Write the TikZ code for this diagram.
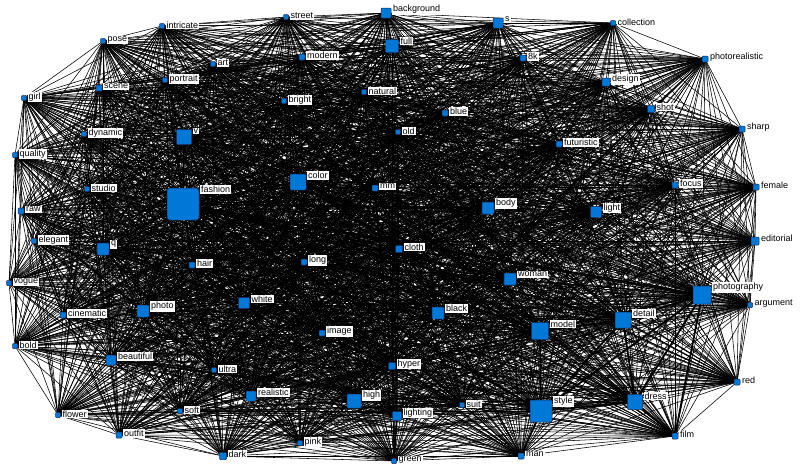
\documentclass[tikz,border=0pt]{standalone}
\usepackage{fontspec}
\setmainfont{Liberation Sans}
\usetikzlibrary{backgrounds}
\definecolor{nodeblue}{RGB}{0,120,215}
\definecolor{nodeedge}{RGB}{25,45,95}
\tikzset{
  nd/.style={draw=nodeedge, line width=0.5pt, fill=nodeblue, minimum size=#1, inner sep=0pt, outer sep=0pt, rounded corners=0.8pt},
  lab/.style={anchor=west, fill=white, inner sep=1pt, font=\fontsize{9}{10}\selectfont, xshift=1pt, yshift=-1.5pt},
  edge/.style={draw=black, line width=0.55pt},
  heavy/.style={draw=black, line width=1.8pt}
}
\newcommand\gnode[5]{\node[nd=#4, label={[lab]north east:#5}] (#1) at (#2,#3) {};}
\begin{document}
\begin{tikzpicture}[x=1pt, y=-1pt]
\useasboundingbox (0,0) rectangle (800,467);
\gnode{intricate}{162}{26}{5pt}{intricate}
\gnode{pose}{103}{41}{5pt}{pose}
\gnode{street}{286}{17}{5pt}{street}
\gnode{background}{386}{13}{10pt}{background}
\gnode{full}{392}{46}{13pt}{full}
\gnode{s}{498}{23}{10pt}{s}
\gnode{n8k}{523}{58}{6pt}{8k}
\gnode{collection}{613}{23}{5pt}{collection}
\gnode{photorealistic}{705}{59}{6pt}{photorealistic}
\gnode{design}{606}{82}{8pt}{design}
\gnode{shot}{651}{109}{7pt}{shot}
\gnode{sharp}{742}{129}{6pt}{sharp}
\gnode{futuristic}{559}{144}{6pt}{futuristic}
\gnode{modern}{302}{57}{6pt}{modern}
\gnode{art}{213}{64}{5pt}{art}
\gnode{portrait}{165}{80}{5pt}{portrait}
\gnode{scene}{99}{88}{6pt}{scene}
\gnode{girl}{24}{98}{5pt}{girl}
\gnode{dynamic}{84}{134}{5pt}{dynamic}
\gnode{v}{184}{137}{15pt}{v}
\gnode{quality}{15}{155}{5pt}{quality}
\gnode{bright}{284}{101}{5pt}{bright}
\gnode{natural}{364}{92}{5pt}{natural}
\gnode{blue}{445}{113}{6pt}{blue}
\gnode{old}{398}{132}{5pt}{old}
\gnode{studio}{87}{189}{5pt}{studio}
\node[nd=32pt, rounded corners=3pt, label={[lab]north east:fashion}] (fashion) at (183,204) {};
\gnode{raw}{21}{211}{6pt}{raw}
\gnode{elegant}{34}{241}{5pt}{elegant}
\gnode{q}{103}{249}{12pt}{q}
\gnode{hair}{192}{265}{6pt}{hair}
\gnode{vogue}{9}{283}{5pt}{vogue}
\gnode{photo}{143}{311}{12pt}{photo}
\gnode{white}{244}{303}{11pt}{white}
\gnode{color}{298}{182}{16pt}{color}
\gnode{mm}{375}{188}{6pt}{mm}
\gnode{body}{488}{208}{12pt}{body}
\gnode{cloth}{399}{249}{7pt}{cloth}
\gnode{long}{304}{262}{6pt}{long}
\gnode{woman}{510}{279}{12pt}{woman}
\gnode{black}{438}{313}{12pt}{black}
\gnode{focus}{675}{185}{6pt}{focus}
\gnode{female}{756}{187}{6pt}{female}
\gnode{light}{596}{212}{11pt}{light}
\gnode{editorial}{755}{241}{8pt}{editorial}
\gnode{photography}{702}{295}{18pt}{photography}
\gnode{argument}{750}{305}{5pt}{argument}
\gnode{cinematic}{63}{315}{6pt}{cinematic}
\gnode{bold}{15}{346}{5pt}{bold}
\gnode{beautiful}{111}{360}{10pt}{beautiful}
\gnode{ultra}{214}{370}{5pt}{ultra}
\gnode{realistic}{251}{396}{10pt}{realistic}
\gnode{soft}{180}{411}{5pt}{soft}
\gnode{flower}{58}{415}{5pt}{flower}
\gnode{outfit}{119}{435}{6pt}{outfit}
\gnode{dark}{223}{456}{7pt}{dark}
\gnode{image}{322}{333}{6pt}{image}
\gnode{hyper}{392}{366}{7pt}{hyper}
\gnode{high}{354}{401}{14pt}{high}
\gnode{lighting}{397}{416}{9pt}{lighting}
\gnode{suit}{462}{405}{5pt}{suit}
\gnode{pink}{300}{443}{5pt}{pink}
\gnode{green}{394}{461}{5pt}{green}
\gnode{man}{521}{456}{6pt}{man}
\gnode{model}{540}{331}{17pt}{model}
\gnode{detail}{623}{320}{16pt}{detail}
\gnode{style}{541}{411}{22pt}{style}
\gnode{dress}{635}{402}{15pt}{dress}
\gnode{red}{737}{382}{6pt}{red}
\gnode{film}{675}{436}{6pt}{film}
\def\allnodes{intricate,pose,street,background,full,s,n8k,collection,photorealistic,design,shot,sharp,futuristic,modern,art,portrait,scene,girl,dynamic,v,quality,bright,natural,blue,old,studio,fashion,raw,elegant,q,hair,vogue,photo,white,color,mm,body,cloth,long,woman,black,focus,female,light,editorial,photography,argument,cinematic,bold,beautiful,ultra,realistic,soft,flower,outfit,dark,image,hyper,high,lighting,suit,pink,green,man,model,detail,style,dress,red,film}
\begin{scope}[on background layer]
\fill[white] (0,0) rectangle (800,467);
\foreach \a [count=\i] in \allnodes {
  \foreach \b [count=\j] in \allnodes {
    \ifnum\j>\i \draw[edge] (\a) -- (\b); \fi
  }
}
\foreach \a/\b in {fashion/photography, fashion/style, fashion/model, fashion/detail, fashion/woman, fashion/body, fashion/white, fashion/photo, photography/style, photography/model, photography/detail, photography/film, photography/dress, style/dress, style/model, style/detail, style/man, dress/film, lighting/green, background/full, full/s, v/fashion, q/fashion, color/fashion, model/detail, detail/dress}
  \draw[heavy] (\a) -- (\b);
\end{scope}
\end{tikzpicture}
\end{document}
